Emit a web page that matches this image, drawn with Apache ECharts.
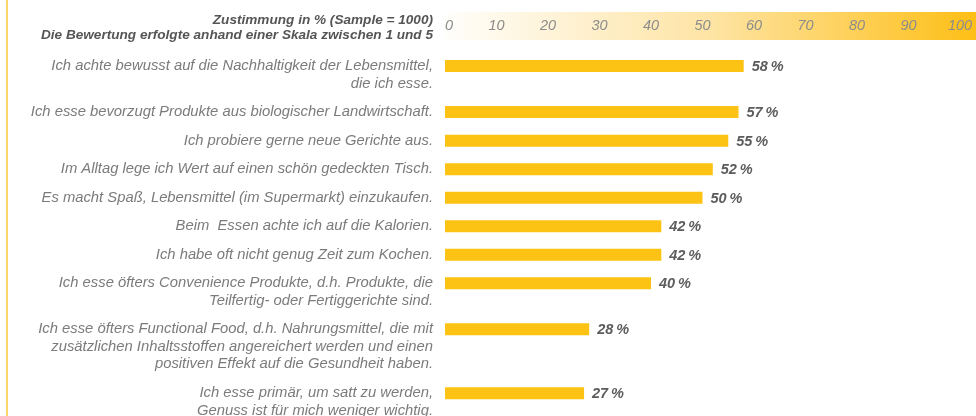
<!DOCTYPE html>
<html lang="de">
<head>
    <meta charset="UTF-8">
    <title>Zustimmung</title>
    <script src="https://cdn.jsdelivr.net/npm/echarts@6/dist/echarts.min.js"></script>
    <style>
        html, body { margin:0; padding:0; background:#fff; }
    </style>
</head>
<body>
    <div id="chart" style="width:976px;height:416px;"></div>
<script>
    // Aussagen (Zeilenumbruch wie im Original)
    var categories = [
        'Ich achte bewusst auf die Nachhaltigkeit der Lebensmittel,\ndie ich esse.',
        'Ich esse bevorzugt Produkte aus biologischer Landwirtschaft.',
        'Ich probiere gerne neue Gerichte aus.',
        'Im Alltag lege ich Wert auf einen schön gedeckten Tisch.',
        'Es macht Spaß, Lebensmittel (im Supermarkt) einzukaufen.',
        'Beim  Essen achte ich auf die Kalorien.',
        'Ich habe oft nicht genug Zeit zum Kochen.',
        'Ich esse öfters Convenience Produkte, d.h. Produkte, die\nTeilfertig- oder Fertiggerichte sind.',
        'Ich esse öfters Functional Food, d.h. Nahrungsmittel, die mit\nzusätzlichen Inhaltsstoffen angereichert werden und einen\npositiven Effekt auf die Gesundheit haben.',
        'Ich esse primär, um satt zu werden,\nGenuss ist für mich weniger wichtig.'
    ];
    var values = [58, 57, 55, 52, 50, 42, 42, 40, 28, 27];
    var axisTicks = [0, 10, 20, 30, 40, 50, 60, 70, 80, 90, 100];
    var titleLines = [
        'Zustimmung in % (Sample = 1000)',
        'Die Bewertung erfolgte anhand einer Skala zwischen 1 und 5'
    ];

    // Zeilenabstand: eine Zeile = 1, jede zusätzliche Textzeile = 0.62
    var extraLine = 0.62;
    var rowPos = [];
    var pos = 0;
    for (var i = 0; i < categories.length; i++) {
        if (i > 0) {
            pos += 1 + (categories[i - 1].split('\n').length - 1) * extraLine;
        }
        rowPos.push(pos);
    }

    var data = [];
    for (var j = 0; j < values.length; j++) {
        data.push([values[j], rowPos[j]]);
    }

    var labelFont = 'italic 14.8px "Liberation Sans", Arial, sans-serif';
    var valueFont = 'italic bold 14.5px "Liberation Sans", Arial, sans-serif';

    function renderItem(params, api) {
        var idx = params.dataIndex;
        var y = api.value(1);
        var start = api.coord([0, y]);
        var end = api.coord([api.value(0), y]);
        var h = 12;
        return {
            type: 'group',
            children: [
                {
                    type: 'rect',
                    shape: { x: start[0], y: start[1] - h / 2, width: end[0] - start[0], height: h },
                    style: { fill: '#fdc314' }
                },
                {
                    type: 'text',
                    x: end[0] + 8,
                    y: end[1] + 1,
                    style: {
                        text: values[idx] + '\u2009%',
                        font: valueFont,
                        fill: '#5c5c5c',
                        verticalAlign: 'middle'
                    }
                },
                {
                    type: 'text',
                    x: start[0] - 12,
                    y: start[1] - 8.75,
                    style: {
                        text: categories[idx],
                        font: labelFont,
                        lineHeight: 17.5,
                        fill: '#7b7b7b',
                        align: 'right',
                        verticalAlign: 'top'
                    }
                }
            ]
        };
    }

    var chart = echarts.init(document.getElementById('chart'));

    var option = {
        animation: false,
        grid: { left: 445, right: 16, top: 40, bottom: 0 },
        graphic: [
            {
                type: 'line',
                z: -10,
                shape: { x1: 7, y1: 0, x2: 7, y2: 416 },
                style: { stroke: '#fdd66b', lineWidth: 2 }
            },
            {
                type: 'rect',
                z: -10,
                shape: { x: 445, y: 12, width: 531, height: 28 },
                style: {
                    fill: new echarts.graphic.LinearGradient(0, 0, 1, 0, [
                        { offset: 0, color: '#fffefb' },
                        { offset: 0.5, color: '#fee4a4' },
                        { offset: 1, color: '#fdbf16' }
                    ])
                }
            },
            {
                type: 'text',
                x: 433,
                y: 20,
                style: {
                    text: titleLines[0],
                    font: 'italic bold 13.6px "Liberation Sans", Arial, sans-serif',
                    fill: '#555',
                    align: 'right',
                    verticalAlign: 'middle'
                }
            },
            {
                type: 'text',
                x: 433,
                y: 35,
                style: {
                    text: titleLines[1],
                    font: 'italic bold 13.6px "Liberation Sans", Arial, sans-serif',
                    fill: '#555',
                    align: 'right',
                    verticalAlign: 'middle'
                }
            }
        ],
        xAxis: {
            type: 'value',
            position: 'top',
            min: axisTicks[0],
            max: axisTicks[axisTicks.length - 1],
            interval: axisTicks[1] - axisTicks[0],
            axisLine: { show: false },
            axisTick: { show: false },
            splitLine: { show: false },
            axisLabel: {
                margin: 7,
                fontStyle: 'italic',
                fontSize: 14.5,
                fontFamily: '"Liberation Sans", Arial, sans-serif',
                color: '#8c8c8c',
                alignMinLabel: 'left'
            }
        },
        yAxis: {
            type: 'value',
            inverse: true,
            min: -0.91,
            max: 12.28,
            show: false
        },
        series: [
            {
                type: 'custom',
                renderItem: renderItem,
                encode: { x: 0, y: 1 },
                data: data
            }
        ]
    };

    chart.setOption(option);
</script>
</body>
</html>
